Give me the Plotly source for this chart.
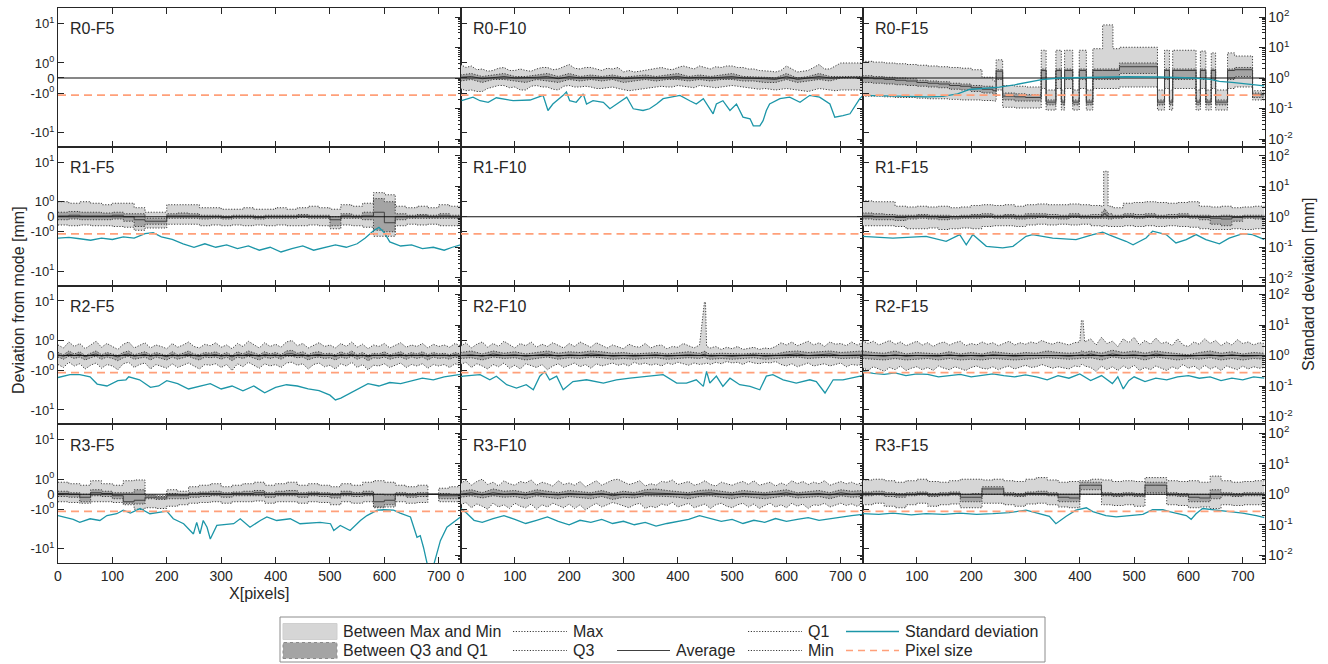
import math
import plotly.graph_objects as go
from plotly.subplots import make_subplots

W, H = 1328, 664
FONT = "Liberation Sans, Arial, Helvetica, sans-serif"
INK = "#262626"

# ---------------------------------------------------------------- data
X20 = [0, 20, 40, 60, 80, 100, 120, 140, 160, 180, 200, 220, 240, 260, 280, 300, 320, 340, 360,
       380, 400, 420, 440, 460, 480, 500, 520, 540, 560, 580, 600, 620, 640, 660, 680, 700, 720, 740]
X10 = list(range(0, 741, 10))
PIXEL_SIZE = 0.275
PANEL_NAMES = [["R0-F5", "R0-F10", "R0-F15"], ["R1-F5", "R1-F10", "R1-F15"],
               ["R2-F5", "R2-F10", "R2-F15"], ["R3-F5", "R3-F10", "R3-F15"]]
X_TICKS = [0, 100, 200, 300, 400, 500, 600, 700]
LEFT_TICKS = [10, 1, 0, -1, -10]
LEFT_TICKTEXT = ["10<sup>1</sup>", "10<sup>0</sup>", "0", "-10<sup>0</sup>", "-10<sup>1</sup>"]
RIGHT_TICKS = [0.01, 0.1, 1, 10, 100]
RIGHT_TICKTEXT = ["10<sup>-2</sup>", "10<sup>-1</sup>", "10<sup>0</sup>", "10<sup>1</sup>", "10<sup>2</sup>"]
LEGEND_ROW1 = ["Between Max and Min", "Max", "", "Q1", "Standard deviation"]
LEGEND_ROW2 = ["Between Q3 and Q1", "Q3", "Average", "Min", "Pixel size"]

# R0-F10
R0F10_max = [0.9,0.7,0.8,0.55,0.6,0.45,0.5,0.65,0.7,0.5,0.5,0.6,0.5,0.45,0.6,0.7,0.7,0.55,0.6,0.75,
             0.9,0.65,0.6,0.7,0.7,0.6,0.5,0.65,0.6,0.7,0.4,0.5,0.4,0.45,0.5,0.6,0.6,0.7,0.6,0.55,
             0.7,0.8,0.7,0.6,0.8,0.7,0.6,0.75,0.7,0.8,0.8,0.7,0.7,0.6,0.6,0.5,0.5,0.45,0.4,0.5,
             0.8,0.6,0.4,0.45,0.5,0.7,0.9,0.6,0.6,0.8,1.0,1.0,1.0,1.0,1.0]
R0F10_min = [-0.7,-0.85,-0.8,-0.9,-0.9,-0.7,-0.6,-0.5,-0.5,-0.65,-0.6,-0.8,-0.8,-0.55,-0.5,-0.6,-0.6,-0.75,-0.8,-0.55,
             -0.5,-0.6,-0.6,-0.55,-0.6,-0.7,-0.7,-0.65,-0.6,-0.7,-0.8,-0.85,-0.8,-0.75,-0.7,-0.65,-0.6,-0.55,-0.6,-0.6,
             -0.5,-0.55,-0.6,-0.65,-0.5,-0.55,-0.6,-0.65,-0.6,-0.55,-0.5,-0.55,-0.6,-0.65,-0.7,-0.75,-0.7,-0.75,-0.8,-0.75,
             -0.7,-0.75,-0.8,-0.85,-0.9,-0.8,-0.7,-0.75,-0.8,-0.85,-0.8,-0.8,-0.8,-0.8,-0.8]
R0F10_q3 = [0.2,0.3,0.1,0.2,0.3,0.1,0.1,0.2,0.3,0.1,0.3,0.1,0.2,0.1,0.2,0.05,0.1,0.2,0.1,0.2,0.3,0.1,0.2,0.1,0.2,0.3,0.1,0.1,0.05,0.0,0.3,0.0,0.1,0.3,0.1,0.1,0.1,0.1]
R0F10_avg = [0.05,0.1,-0.05,0.05,0.1,0,0,0.05,0.1,-0.05,0.1,0,0.05,0,0.05,-0.05,0,0.05,0,0.05,0.1,0,0.05,0,0.05,0.1,0,0,-0.05,-0.1,0.1,-0.1,0,0.1,0,0.05,0.05,0.05]
R0F10_q1 = [-0.2,-0.1,-0.3,-0.1,-0.1,-0.2,-0.3,-0.1,-0.2,-0.3,-0.1,-0.2,-0.1,-0.2,-0.1,-0.3,-0.2,-0.1,-0.2,-0.1,-0.1,-0.2,-0.1,-0.2,-0.1,-0.1,-0.2,-0.2,-0.3,-0.3,-0.1,-0.3,-0.2,-0.1,-0.2,0,0,0]
R0F10_sd_x = [2,23,36,51,66,97,128,152,161,170,189,195,201,213,226,232,244,263,275,287,306,318,336,348,361,373,404,422,434,447,465,471,483,496,508,520,533,539,551,557,563,569,588,606,625,643,661,680,689,704,717,735,740]
R0F10_sd = [0.18,0.236,0.18,0.16,0.225,0.18,0.19,0.27,0.086,0.14,0.27,0.35,0.18,0.16,0.30,0.14,0.18,0.16,0.098,0.14,0.236,0.098,0.086,0.098,0.14,0.21,0.27,0.18,0.14,0.21,0.067,0.14,0.18,0.086,0.14,0.052,0.046,0.027,0.027,0.040,0.086,0.14,0.21,0.236,0.16,0.27,0.236,0.14,0.052,0.058,0.067,0.21,0.26]

# R0-F15
R0F15_x = [0,20,40,60,80,100,120,140,160,180,200,220,240,246,258,280,300,329,338,356,366,372,387,399,412,424,442,461,473,543,556,565,571,614,622,632,642,650,672,685,718,740]
R0F15_max = [1.1,1.05,1.0,0.95,0.9,0.85,0.8,0.75,0.7,0.65,0.55,0.05,-0.2,1.2,-0.5,-0.55,-0.6,2.1,-0.8,2.1,-0.8,2.1,-0.8,2.1,-0.8,2.3,9.2,2.3,2.5,-0.8,2.1,-0.8,2.1,-0.8,2.0,-0.8,1.8,-0.8,1.8,1.5,-0.85,-0.85]
R0F15_q3 = [0.15,0.1,0.05,0.0,-0.05,-0.15,-0.2,-0.25,-0.35,-0.4,-0.5,-0.55,-0.65,0.55,-1.0,-1.05,-1.1,0.6,-1.5,0.6,-1.5,0.6,-1.5,0.6,-1.5,0.6,0.6,0.6,1.0,-1.5,0.6,-1.5,0.6,-1.5,0.6,-1.5,0.6,-1.5,0.6,0.7,-1.0,-1.0]
R0F15_avg = [0,-0.05,-0.1,-0.15,-0.2,-0.3,-0.35,-0.4,-0.5,-0.55,-0.65,-0.75,-0.85,0.45,-1.2,-1.25,-1.3,0.5,-1.7,0.5,-1.7,0.5,-1.7,0.5,-1.7,0.5,0.5,0.5,0.75,-1.7,0.5,-1.7,0.5,-1.7,0.5,-1.7,0.5,-1.7,0.5,0.55,-1.1,-1.1]
R0F15_q1 = [-0.3,-0.35,-0.4,-0.45,-0.5,-0.55,-0.6,-0.65,-0.75,-0.8,-0.9,-1.0,-1.1,-0.1,-1.5,-1.6,-1.6,-0.1,-2.0,-0.1,-2.0,-0.1,-2.0,-0.1,-2.0,-0.1,-0.1,-0.1,0.3,-2.0,-0.1,-2.0,-0.1,-2.0,-0.1,-2.0,-0.1,-2.0,-0.1,0.1,-1.3,-1.3]
R0F15_min = [-1.2,-1.2,-1.25,-1.3,-1.3,-1.35,-1.4,-1.4,-1.45,-1.5,-1.5,-1.55,-1.6,-0.8,-2.3,-2.4,-2.4,-0.7,-2.7,-0.7,-2.7,-0.7,-2.7,-0.7,-2.7,-0.7,-0.7,-0.7,-0.6,-2.7,-0.7,-2.7,-0.7,-2.7,-0.7,-2.7,-0.7,-2.7,-0.7,-0.6,-1.5,-1.5]
R0F15_sd_x = [0,40,86,120,148,175,197,225,252,280,301,330,363,424,485,547,608,640,657,680,700,720,740]
R0F15_sd = [0.27,0.26,0.24,0.24,0.25,0.3,0.42,0.47,0.5,0.6,0.72,0.88,1.0,1.05,1.1,1.08,1.0,0.9,0.78,0.72,0.66,0.6,0.55]

# R1-F5
R1F5_max = [1.0,0.9,1.0,0.9,0.8,0.9,0.9,0.6,0.3,0.3,0.8,0.8,0.8,0.6,0.6,0.5,0.5,0.6,0.5,0.5,0.6,0.5,0.6,0.7,0.6,0.5,0.8,0.7,0.9,1.7,1.5,0.7,0.6,0.7,0.6,0.8,0.7,0.8]
R1F5_q3 = [0.3,0.35,0.3,0.3,0.25,0.3,0.2,0.2,-0.1,-0.1,0.2,0.25,0.2,0.1,0.1,0.05,0.1,0.1,0.05,0.1,0.1,0.1,0.15,0.1,0.1,0.0,0.2,0.1,0.3,1.2,1.0,0.2,0.1,0.15,0.1,0.2,0.1,0.2]
R1F5_avg = [0.05,0.1,0.05,0.05,0.05,0.1,0.0,-0.2,-0.3,-0.3,0.05,0.05,0.05,0.0,0.0,-0.05,0.0,0.0,-0.05,0.0,0.0,0.0,0.05,0.0,0.0,-0.2,0.05,0.0,0.05,0.3,-0.4,0.0,0.0,0.05,0.0,0.05,0.0,0.05]
R1F5_q1 = [-0.2,-0.15,-0.2,-0.2,-0.2,-0.15,-0.3,-0.65,-0.5,-0.5,-0.1,-0.1,-0.1,-0.15,-0.1,-0.15,-0.1,-0.1,-0.15,-0.1,-0.1,-0.1,-0.05,-0.1,-0.1,-0.6,-0.1,-0.1,-0.2,-0.9,-1.0,-0.2,-0.1,-0.1,-0.1,-0.1,-0.1,-0.1]
R1F5_min = [-0.55,-0.6,-0.55,-0.6,-0.6,-0.65,-0.7,-0.9,-0.75,-0.75,-0.5,-0.5,-0.5,-0.6,-0.55,-0.6,-0.55,-0.6,-0.55,-0.6,-0.55,-0.6,-0.6,-0.55,-0.6,-0.8,-0.55,-0.6,-0.7,-1.3,-1.3,-0.6,-0.5,-0.55,-0.5,-0.6,-0.6,-0.7]
R1F5_sd_x = [0,20,40,60,80,100,120,140,160,175,190,210,230,250,270,290,310,330,350,370,390,410,430,450,470,490,510,530,550,565,580,590,600,610,630,650,670,690,710,725,740]
R1F5_sd = [0.2,0.21,0.19,0.17,0.2,0.18,0.22,0.2,0.28,0.3,0.22,0.18,0.13,0.1,0.13,0.1,0.12,0.09,0.11,0.08,0.1,0.07,0.09,0.11,0.08,0.1,0.12,0.1,0.13,0.2,0.35,0.45,0.3,0.15,0.11,0.12,0.09,0.1,0.08,0.1,0.12]

# R1-F15
R1F15_x = [0,20,40,60,80,100,120,140,160,180,200,220,240,260,280,300,320,340,360,380,400,420,440,444,448,452,460,480,500,520,540,560,580,600,620,640,660,680,700,720,740]
R1F15_max = [1.05,1.0,1.0,0.7,0.65,0.7,0.65,0.7,0.6,0.65,0.75,0.8,0.75,0.8,0.7,0.8,0.85,0.8,0.8,0.85,0.8,0.75,0.7,5.9,5.9,0.7,0.6,0.9,0.95,1.0,0.95,0.9,0.95,1.0,0.7,0.65,0.7,0.6,0.65,0.7,0.6]
R1F15_q3 = [0.25,0.2,0.15,0.1,0.1,0.15,0.1,0.1,0.05,0.1,0.15,0.2,0.1,0.15,0.1,0.2,0.2,0.15,0.1,0.2,0.1,0.15,0.3,0.5,0.3,0.2,0.1,0.2,0.15,0.2,0.1,0.15,0.2,0.1,0.1,0.05,0.1,0.05,0.1,0.1,0.1]
R1F15_avg = [0.05,0.0,0.0,-0.05,0.0,0.05,0.0,-0.05,0.0,0.0,0.05,0.05,0.0,0.05,0.0,0.05,0.05,0.0,0.0,0.05,0.0,0.0,0.1,0.2,0.1,0.0,0.0,0.05,0.0,0.05,0.0,0.0,0.05,0.0,-0.05,-0.1,-0.15,-0.05,0.0,0.0,0.0]
R1F15_q1 = [-0.15,-0.2,-0.2,-0.25,-0.15,-0.1,-0.15,-0.2,-0.15,-0.1,-0.1,-0.05,-0.1,-0.1,-0.15,-0.1,-0.05,-0.1,-0.15,-0.05,-0.1,-0.1,-0.1,-0.1,-0.1,-0.15,-0.1,-0.05,-0.1,-0.05,-0.1,-0.1,-0.05,-0.1,-0.2,-0.5,-0.6,-0.3,-0.1,-0.15,-0.1]
R1F15_min = [-0.6,-0.6,-0.6,-0.65,-0.8,-0.8,-0.75,-0.85,-0.8,-0.75,-0.8,-0.65,-0.6,-0.6,-0.65,-0.55,-0.5,-0.55,-0.5,-0.55,-0.5,-0.6,-0.65,-0.6,-0.6,-0.65,-0.65,-0.6,-0.65,-0.6,-0.65,-0.6,-0.65,-0.7,-0.8,-0.85,-0.85,-0.8,-0.85,-0.8,-0.85]
R1F15_sd_x = [0,56,117,154,179,191,203,228,258,277,301,313,350,393,424,442,461,485,498,522,534,559,577,596,614,632,657,675,700,718,740]
R1F15_sd = [0.229,0.20,0.229,0.157,0.26,0.12,0.26,0.107,0.095,0.107,0.229,0.26,0.20,0.178,0.26,0.31,0.229,0.157,0.12,0.20,0.335,0.26,0.138,0.178,0.26,0.178,0.13,0.20,0.28,0.26,0.178]

# R2-F5 (10 px sampling)
R2F5_max = [0.7,0.5,0.9,0.6,0.8,0.45,0.7,0.95,0.55,0.8,0.6,0.4,0.75,0.9,0.5,0.65,0.85,0.5,0.7,0.6,
            0.45,0.8,0.55,0.7,0.9,0.6,0.5,0.75,0.65,0.85,0.55,0.7,0.45,0.8,0.6,0.95,0.7,0.5,0.85,0.6,
            0.75,0.55,0.9,1.0,0.65,0.8,0.5,0.7,0.85,0.6,0.7,0.5,0.8,0.6,0.9,0.55,0.75,0.45,0.7,0.6,
            0.8,0.5,0.65,0.85,0.55,0.7,0.6,0.8,0.5,0.75,0.6,0.7,0.55,0.8,0.65]
R2F5_q3 = [0.2,0.05,0.3,0.1,0.25,0.0,0.15,0.3,0.05,0.2,0.1,0.0,0.2,0.3,0.05,0.15,0.25,0.05,0.2,0.1,
           0.0,0.25,0.05,0.15,0.3,0.1,0.05,0.2,0.15,0.25,0.05,0.2,0.0,0.25,0.1,0.3,0.15,0.05,0.25,0.1,
           0.2,0.05,0.3,0.35,0.15,0.25,0.05,0.2,0.25,0.1,0.15,0.05,0.25,0.1,0.3,0.05,0.2,0.0,0.15,0.1,
           0.25,0.05,0.15,0.25,0.05,0.2,0.1,0.25,0.05,0.2,0.1,0.15,0.05,0.2,0.1]
R2F5_avg = [0.05,-0.05,0.1,0.0,0.08,-0.08,0.03,0.1,-0.05,0.05,0.0,-0.1,0.05,0.1,-0.05,0.02,0.08,-0.06,0.05,0.0,
            -0.08,0.06,-0.04,0.02,0.1,0.0,-0.06,0.05,0.02,0.07,-0.05,0.04,-0.1,0.06,0.0,0.1,0.03,-0.06,0.07,0.0,
            0.05,-0.05,0.1,0.12,0.02,0.06,-0.06,0.04,0.07,0.0,0.03,-0.06,0.06,0.0,0.1,-0.05,0.04,-0.1,0.03,0.0,
            0.06,-0.05,0.02,0.07,-0.04,0.04,0.0,0.06,-0.06,0.04,0.0,0.03,-0.04,0.05,0.0]
R2F5_q1 = [-0.1,-0.25,-0.05,-0.2,-0.1,-0.3,-0.15,-0.05,-0.25,-0.1,-0.2,-0.35,-0.15,-0.05,-0.25,-0.15,-0.1,-0.3,-0.1,-0.2,
           -0.3,-0.1,-0.25,-0.15,-0.05,-0.2,-0.3,-0.1,-0.15,-0.1,-0.25,-0.1,-0.35,-0.1,-0.2,-0.05,-0.15,-0.3,-0.1,-0.2,
           -0.1,-0.25,-0.05,-0.05,-0.15,-0.1,-0.3,-0.15,-0.1,-0.2,-0.15,-0.3,-0.1,-0.2,-0.05,-0.25,-0.1,-0.35,-0.15,-0.2,
           -0.1,-0.25,-0.15,-0.1,-0.25,-0.1,-0.2,-0.1,-0.3,-0.1,-0.2,-0.15,-0.25,-0.1,-0.2]
R2F5_min = [-0.6,-0.8,-0.45,-0.7,-0.55,-0.9,-0.65,-0.5,-0.85,-0.6,-0.7,-0.95,-0.55,-0.45,-0.8,-0.6,-0.5,-0.9,-0.6,-0.75,
            -0.85,-0.55,-0.8,-0.65,-0.5,-0.7,-0.9,-0.6,-0.65,-0.55,-0.8,-0.6,-1.0,-0.55,-0.75,-0.45,-0.65,-0.85,-0.55,-0.7,
            -0.6,-0.8,-0.5,-0.45,-0.65,-0.55,-0.9,-0.6,-0.5,-0.75,-0.65,-0.9,-0.55,-0.7,-0.45,-0.8,-0.6,-0.95,-0.65,-0.7,
            -0.55,-0.8,-0.65,-0.5,-0.8,-0.6,-0.7,-0.55,-0.85,-0.6,-0.7,-0.6,-0.8,-0.55,-0.7]
R2F5_sd_x = [0,22,40,59,72,90,110,125,130,150,170,185,200,220,240,260,280,300,320,340,360,380,400,420,440,460,480,500,510,520,530,550,570,590,610,630,650,670,690,710,740]
R2F5_sd = [0.19,0.236,0.236,0.2,0.116,0.1,0.15,0.16,0.2,0.16,0.09,0.1,0.15,0.12,0.08,0.1,0.12,0.08,0.1,0.07,0.1,0.06,0.09,0.11,0.1,0.08,0.07,0.05,0.035,0.04,0.05,0.08,0.12,0.1,0.13,0.12,0.15,0.18,0.16,0.2,0.24]

# R2-F10 (outer envelope at 10 px, quartiles at 20 px)
R2F10_xo = X10[:45] + [449, 451, 453] + X10[46:]
R2F10_max = [0.6,0.85,0.5,0.75,0.9,0.55,0.8,0.6,0.95,0.7,0.5,0.8,0.65,0.9,0.55,0.75,0.6,0.85,0.7,0.5,
             0.8,0.6,0.9,0.75,0.55,0.85,0.65,0.5,0.7,0.6,0.45,0.75,0.6,0.55,0.8,0.5,0.65,0.7,0.45,0.6,
             0.55,0.8,0.65,0.5,0.7, 9.3,9.3,0.6,
             0.5,0.6,0.4,0.55,0.45,0.6,0.4,0.5,0.55,0.4,0.5,0.45,0.6,0.85,0.7,0.9,0.65,0.8,0.95,0.7,
             0.85,0.6,0.9,0.75,0.8,0.65,0.9,0.7,0.85]
R2F10_min = [-0.6,-0.45,-0.8,-0.55,-0.7,-0.9,-0.6,-0.75,-0.5,-0.85,-0.65,-0.9,-0.55,-0.7,-0.8,-0.6,-0.95,-0.7,-0.55,-0.8,
             -0.65,-0.5,-0.75,-0.6,-0.85,-0.55,-0.7,-0.6,-0.5,-0.65,-0.55,-0.7,-0.45,-0.6,-0.5,-0.65,-0.55,-0.7,-0.5,-0.6,
             -0.45,-0.55,-0.65,-0.5,-0.6, -0.55,-0.55,-0.5,
             -0.6,-0.45,-0.55,-0.4,-0.5,-0.45,-0.6,-0.4,-0.5,-0.55,-0.45,-0.5,-0.4,-0.6,-0.7,-0.55,-0.75,-0.6,-0.5,-0.7,
             -0.65,-0.55,-0.7,-0.6,-0.5,-0.75,-0.6,-0.65,-0.6]
R2F10_xi = [0,20,40,60,80,100,120,140,160,180,200,220,240,260,280,300,320,340,360,380,400,420,440,449,451,453,460,480,500,520,540,560,580,600,620,640,660,680,700,720,740]
R2F10_q3 = [0.2,0.3,0.1,0.3,0.15,0.25,0.1,0.2,0.3,0.15,0.25,0.2,0.3,0.25,0.15,0.2,0.1,0.15,0.2,0.1,0.15,0.25,0.15,0.3,0.3,0.15,0.1,0.15,0.1,0.1,0.15,0.1,0.1,0.25,0.3,0.2,0.25,0.3,0.2,0.25,0.3]
R2F10_avg = [0.0,0.05,-0.05,0.1,0.0,0.05,-0.05,0.0,0.1,-0.05,0.05,0.0,0.1,0.05,-0.05,0.0,-0.05,0.0,0.05,-0.05,0.0,0.05,0.0,0.1,0.1,0.0,-0.05,0.0,-0.05,0.0,0.05,-0.05,0.0,0.05,0.1,0.0,0.05,0.1,0.0,0.05,0.05]
R2F10_q1 = [-0.2,-0.15,-0.3,-0.1,-0.2,-0.15,-0.3,-0.2,-0.1,-0.25,-0.15,-0.2,-0.1,-0.15,-0.25,-0.2,-0.25,-0.2,-0.15,-0.25,-0.2,-0.15,-0.2,-0.1,-0.1,-0.2,-0.25,-0.2,-0.25,-0.2,-0.15,-0.25,-0.2,-0.15,-0.1,-0.2,-0.15,-0.1,-0.2,-0.15,-0.15]
R2F10_sd_x = [0,5,36,54,66,85,103,121,134,146,155,164,177,189,207,232,263,287,312,342,373,398,416,434,447,453,459,471,483,496,514,533,551,563,575,594,618,643,655,671,686,704,735,740]
R2F10_sd = [0.2,0.21,0.236,0.16,0.21,0.11,0.086,0.11,0.075,0.21,0.30,0.16,0.21,0.075,0.14,0.16,0.125,0.16,0.18,0.21,0.236,0.125,0.125,0.16,0.097,0.30,0.125,0.21,0.097,0.18,0.11,0.097,0.075,0.21,0.236,0.16,0.125,0.16,0.14,0.059,0.16,0.16,0.21,0.22]

# R2-F15 (outer envelope at 10 px, quartiles at 20 px)
R2F15_xo = X10[:41] + [403, 406, 409] + X10[42:]
R2F15_max = [1.0,0.8,0.95,0.7,0.85,1.0,0.75,0.9,0.65,0.8,0.95,0.7,0.85,0.6,0.8,0.9,0.7,0.85,0.95,0.65,
             0.8,0.7,0.9,0.75,0.85,0.65,0.8,0.95,0.7,0.85,0.75,0.9,0.8,1.0,0.85,0.75,0.9,0.8,0.7,0.85,0.9,
             3.2,3.2,0.9,
             1.1,0.7,1.2,0.8,0.95,0.6,1.1,0.85,1.2,0.7,1.0,0.75,1.15,0.8,0.9,0.65,1.1,0.7,0.6,0.9,
             0.75,1.1,0.8,1.0,0.65,0.9,0.7,1.05,0.8,0.9,0.7,0.85,0.8]
R2F15_min = [-0.8,-1.0,-0.75,-0.9,-1.05,-0.8,-0.95,-0.7,-1.0,-0.85,-0.75,-0.95,-0.8,-1.0,-0.7,-0.85,-0.95,-0.75,-0.9,-1.0,
             -0.8,-0.7,-0.85,-0.9,-0.75,-0.95,-0.8,-0.7,-0.9,-0.8,-0.65,-0.8,-0.75,-0.6,-0.7,-0.85,-0.75,-0.8,-0.9,-0.7,-0.75,
             -0.6,-0.6,-0.7,
             -0.8,-1.05,-0.7,-0.95,-0.75,-1.0,-0.7,-0.9,-0.65,-1.0,-0.8,-0.95,-0.7,-0.85,-1.0,-0.75,-0.9,-0.6,-0.85,-0.7,
             -0.95,-0.65,-0.9,-0.75,-1.0,-0.7,-0.85,-0.95,-0.7,-0.9,-0.75,-0.85,-0.8]
R2F15_xi = [0,20,40,60,80,100,120,140,160,180,200,220,240,260,280,300,320,340,360,380,400,403,406,409,420,440,460,480,500,520,540,560,580,600,620,640,660,680,700,720,740]
R2F15_q3 = [0.3,0.2,0.15,0.3,0.1,0.2,0.15,0.1,0.25,0.1,0.2,0.1,0.25,0.15,0.1,0.2,0.15,0.3,0.2,0.15,0.2,0.3,0.3,0.2,0.3,0.15,0.35,0.2,0.3,0.15,0.3,0.2,0.1,0.05,0.2,0.3,0.15,0.25,0.1,0.2,0.15]
R2F15_avg = [0.05,0.0,-0.05,0.05,-0.05,0.0,0.0,-0.05,0.05,-0.05,0.0,-0.05,0.05,0.0,-0.05,0.0,0.0,0.05,0.0,-0.05,0.0,0.05,0.05,0.0,0.1,-0.05,0.1,0.0,0.05,-0.05,0.1,0.0,-0.05,-0.05,0.0,0.05,-0.05,0.05,-0.05,0.0,0.0]
R2F15_q1 = [-0.2,-0.25,-0.3,-0.2,-0.3,-0.25,-0.2,-0.3,-0.2,-0.3,-0.25,-0.3,-0.2,-0.25,-0.3,-0.25,-0.2,-0.15,-0.2,-0.25,-0.2,-0.15,-0.15,-0.2,-0.15,-0.3,-0.1,-0.2,-0.15,-0.3,-0.1,-0.2,-0.3,-0.2,-0.25,-0.15,-0.3,-0.2,-0.3,-0.2,-0.25]
R2F15_sd_x = [0,20,40,60,80,100,120,140,160,180,200,220,240,260,280,300,320,340,360,380,400,420,440,460,470,480,490,500,520,540,560,580,600,620,640,660,680,700,720,740]
R2F15_sd = [0.3,0.26,0.24,0.27,0.22,0.25,0.24,0.2,0.22,0.24,0.2,0.22,0.25,0.22,0.2,0.23,0.2,0.16,0.22,0.18,0.25,0.15,0.22,0.12,0.2,0.08,0.15,0.2,0.14,0.18,0.16,0.2,0.22,0.18,0.2,0.15,0.18,0.16,0.2,0.18]

# R3-F5
R3F5_max = [0.8,0.7,0.6,0.9,0.7,0.6,0.9,0.95,-0.05,-0.1,0.3,0.2,0.5,0.6,0.7,0.5,0.6,0.7,0.8,0.6,0.7,0.8,0.6,0.7,0.6,0.5,0.7,0.6,0.8,0.9,0.8,0.6,0.5,0.6,0.0,0.4,0.5,0.4]
R3F5_q3 = [0.2,0.1,0.0,0.3,0.2,0.1,0.1,0.3,-0.1,-0.15,0.05,0.0,0.1,0.15,0.2,0.1,0.15,0.2,0.25,0.1,0.2,0.25,0.1,0.15,0.1,0.05,0.2,0.1,0.2,0.0,-0.05,0.1,0.05,0.1,0.0,0.05,0.0,0.0]
R3F5_avg = [0.05,0.0,-0.2,0.1,0.05,-0.1,-0.5,-0.4,-0.2,-0.25,-0.1,-0.1,0.0,0.05,0.05,0.0,0.05,0.05,0.1,0.0,0.05,0.05,0.0,0.05,0.0,-0.05,0.05,0.0,0.05,-0.5,-0.4,0.0,-0.05,0.0,0.0,-0.1,-0.1,-0.1]
R3F5_q1 = [-0.15,-0.2,-0.5,-0.1,-0.15,-0.3,-0.6,-0.65,-0.3,-0.35,-0.3,-0.3,-0.2,-0.15,-0.1,-0.2,-0.1,-0.1,-0.1,-0.2,-0.1,-0.1,-0.2,-0.1,-0.15,-0.25,-0.1,-0.15,-0.1,-0.85,-0.7,-0.1,-0.2,-0.15,0.0,-0.3,-0.3,-0.3]
R3F5_min = [-0.5,-0.55,-0.6,-0.5,-0.5,-0.55,-0.7,-1.0,-0.9,-0.95,-0.8,-0.7,-0.6,-0.55,-0.5,-0.6,-0.5,-0.5,-0.45,-0.6,-0.5,-0.5,-0.6,-0.5,-0.55,-0.7,-0.5,-0.6,-0.5,-0.9,-0.85,-0.5,-0.6,-0.55,0.0,-0.5,-0.5,-0.5]
R3F5_sd_x = [0,28,40,59,77,90,108,120,133,151,169,200,212,231,249,255,261,267,274,280,292,323,335,353,372,384,402,427,445,482,501,507,519,537,556,568,587,599,617,629,648,660,666,672,679,691,703,715,740]
R3F5_sd = [0.2,0.15,0.12,0.157,0.138,0.2,0.23,0.30,0.24,0.34,0.23,0.28,0.157,0.108,0.05,0.12,0.05,0.138,0.083,0.034,0.095,0.108,0.157,0.083,0.138,0.18,0.138,0.157,0.108,0.12,0.108,0.065,0.095,0.065,0.138,0.2,0.30,0.31,0.30,0.24,0.18,0.039,0.044,0.018,0.005,0.005,0.03,0.083,0.18]

# R3-F10 (outer envelope at 10 px, quartiles at 20 px)
R3F10_max = [0.7,0.95,0.6,0.85,1.0,0.65,0.8,0.55,0.9,0.7,0.6,0.85,0.75,0.95,0.6,0.8,0.7,0.55,0.9,0.65,
             0.75,0.6,0.85,0.5,0.7,0.9,0.6,0.75,0.95,1.0,0.8,0.65,0.75,0.9,0.55,0.7,0.6,0.85,0.8,0.95,
             0.65,0.75,0.85,0.6,0.7,0.9,0.65,0.55,0.8,0.7,0.6,0.75,0.85,0.65,0.9,0.6,0.7,0.8,0.55,0.75,
             0.6,0.9,0.7,0.85,0.65,0.8,0.7,0.9,0.6,0.75,0.85,0.7,0.8,0.65,0.8]
R3F10_min = [-0.7,-0.55,-0.9,-0.65,-0.8,-1.0,-0.6,-0.85,-0.7,-0.95,-0.6,-0.8,-0.9,-0.65,-1.0,-0.7,-0.85,-0.6,-0.75,-0.9,
             -0.65,-0.95,-0.7,-1.05,-0.8,-0.6,-0.85,-0.7,-0.55,-0.65,-0.75,-0.9,-0.7,-0.6,-0.95,-0.8,-0.9,-0.65,-0.75,-0.55,
             -0.85,-0.7,-0.6,-0.9,-0.8,-0.65,-0.95,-0.7,-0.6,-0.8,-0.9,-0.7,-0.6,-0.85,-0.65,-0.95,-0.75,-0.6,-0.85,-0.7,
             -0.9,-0.6,-0.8,-0.65,-0.95,-0.7,-0.75,-0.6,-0.85,-0.7,-0.6,-0.75,-0.65,-0.8,-0.6]
R3F10_q3 = [0.2,0.3,0.1,0.35,0.2,0.25,0.1,0.3,0.2,0.1,0.25,0.2,0.1,0.25,0.05,0.2,0.1,0.3,0.35,0.25,0.2,0.1,0.25,0.3,0.2,0.1,0.25,0.2,0.1,0.2,0.3,0.1,0.2,0.25,0.1,0.3,0.2,0.25]
R3F10_avg = [0.0,0.1,-0.05,0.1,0.0,0.05,-0.05,0.1,0.0,-0.05,0.05,0.0,-0.05,0.05,-0.1,0.0,-0.05,0.1,0.1,0.05,0.0,-0.05,0.05,0.1,0.0,-0.05,0.05,0.0,-0.05,0.0,0.1,-0.05,0.0,0.05,-0.05,0.1,0.0,0.05]
R3F10_q1 = [-0.2,-0.1,-0.25,-0.1,-0.2,-0.15,-0.3,-0.1,-0.2,-0.3,-0.15,-0.2,-0.3,-0.15,-0.35,-0.2,-0.25,-0.1,-0.1,-0.15,-0.2,-0.3,-0.15,-0.1,-0.2,-0.3,-0.15,-0.2,-0.3,-0.2,-0.1,-0.25,-0.2,-0.15,-0.3,-0.1,-0.2,-0.15]
R3F10_sd_x = [0,10,25,40,60,80,100,120,140,160,180,200,220,240,260,280,300,320,340,360,380,400,420,440,460,480,500,520,540,560,580,600,620,640,660,680,700,720,740]
R3F10_sd = [0.35,0.25,0.14,0.12,0.16,0.2,0.15,0.11,0.14,0.18,0.13,0.1,0.14,0.12,0.15,0.11,0.13,0.1,0.12,0.09,0.11,0.13,0.15,0.2,0.16,0.13,0.15,0.11,0.14,0.12,0.16,0.13,0.15,0.17,0.14,0.16,0.18,0.2,0.22]

# R3-F15
R3F15_max = [0.95,1.0,0.9,0.8,0.9,1.0,0.85,0.8,0.9,1.0,1.0,0.95,1.0,0.9,0.85,1.0,1.1,0.95,0.8,0.85,0.9,1.0,0.95,0.85,0.9,0.85,1.1,1.1,0.9,0.85,0.9,0.8,1.2,0.9,0.8,0.85,0.9,0.85]
R3F15_q3 = [0.15,0.2,0.1,0.05,0.1,0.15,0.05,0.1,0.15,0.0,0.05,0.5,0.5,0.1,0.05,0.15,0.2,0.1,0.0,0.0,0.8,0.8,0.1,0.05,0.1,0.05,0.8,0.8,0.1,0.05,0.0,0.0,0.3,0.1,0.05,0.1,0.1,0.05]
R3F15_avg = [0.05,0.05,0.0,-0.05,0.0,0.05,-0.05,0.0,0.05,-0.2,-0.2,0.35,0.35,0.0,-0.05,0.05,0.05,0.0,-0.2,-0.25,0.6,0.6,0.0,-0.05,0.0,-0.05,0.6,0.6,0.0,-0.05,-0.2,-0.25,0.0,0.0,-0.05,0.0,0.0,-0.05]
R3F15_q1 = [-0.1,-0.05,-0.15,-0.2,-0.1,-0.05,-0.15,-0.1,-0.05,-0.5,-0.5,0.0,0.0,-0.1,-0.15,-0.05,-0.05,-0.1,-0.5,-0.5,0.3,0.3,-0.1,-0.15,-0.1,-0.15,0.1,0.1,-0.1,-0.15,-0.5,-0.5,-0.3,-0.1,-0.15,-0.1,-0.1,-0.15]
R3F15_min = [-0.7,-0.6,-0.8,-0.9,-0.7,-0.6,-0.8,-0.7,-0.65,-0.9,-0.9,-0.6,-0.6,-0.7,-0.8,-0.65,-0.6,-0.7,-0.85,-0.9,0.0,0.0,-0.7,-0.75,-0.7,-0.8,0.0,0.0,-0.7,-0.75,-0.9,-0.85,-0.95,-0.7,-0.75,-0.7,-0.7,-0.8]
R3F15_sd_x = [0,30,56,90,117,150,179,210,240,270,301,326,344,356,375,393,412,424,448,467,485,516,534,553,565,583,596,605,614,626,645,669,700,725,740]
R3F15_sd = [0.23,0.22,0.24,0.21,0.23,0.22,0.24,0.22,0.23,0.25,0.3,0.23,0.19,0.108,0.19,0.3,0.36,0.27,0.2,0.18,0.19,0.22,0.31,0.31,0.27,0.23,0.2,0.15,0.23,0.34,0.31,0.29,0.24,0.2,0.17]


def panel(xo, mx, mn, xi, q3, av, q1, sx, sd, shape):
    return dict(xo=xo, mx=mx, mn=mn, xi=xi, q3=q3, av=av, q1=q1, sx=sx, sd=sd, shape=shape)


PANELS = {
    (0, 0): None,
    (0, 1): panel(X10, R0F10_max, R0F10_min, X20, R0F10_q3, R0F10_avg, R0F10_q1, R0F10_sd_x, R0F10_sd, "linear"),
    (0, 2): panel(R0F15_x, R0F15_max, R0F15_min, R0F15_x, R0F15_q3, R0F15_avg, R0F15_q1, R0F15_sd_x, R0F15_sd, "hv"),
    (1, 0): panel(X20, R1F5_max, R1F5_min, X20, R1F5_q3, R1F5_avg, R1F5_q1, R1F5_sd_x, R1F5_sd, "hv"),
    (1, 1): None,
    (1, 2): panel(R1F15_x, R1F15_max, R1F15_min, R1F15_x, R1F15_q3, R1F15_avg, R1F15_q1, R1F15_sd_x, R1F15_sd, "hv"),
    (2, 0): panel(X10, R2F5_max, R2F5_min, X10, R2F5_q3, R2F5_avg, R2F5_q1, R2F5_sd_x, R2F5_sd, "linear"),
    (2, 1): panel(R2F10_xo, R2F10_max, R2F10_min, R2F10_xi, R2F10_q3, R2F10_avg, R2F10_q1, R2F10_sd_x, R2F10_sd, "linear"),
    (2, 2): panel(R2F15_xo, R2F15_max, R2F15_min, R2F15_xi, R2F15_q3, R2F15_avg, R2F15_q1, R2F15_sd_x, R2F15_sd, "linear"),
    (3, 0): panel(X20, R3F5_max, R3F5_min, X20, R3F5_q3, R3F5_avg, R3F5_q1, R3F5_sd_x, R3F5_sd, "hv"),
    (3, 1): panel(X10, R3F10_max, R3F10_min, X20, R3F10_q3, R3F10_avg, R3F10_q1, R3F10_sd_x, R3F10_sd, "linear"),
    (3, 2): panel(X20, R3F15_max, R3F15_min, X20, R3F15_q3, R3F15_avg, R3F15_q1, R3F15_sd_x, R3F15_sd, "hv"),
}

# ---------------------------------------------------------------- scales / layout constants
K_LIN = 0.38                      # width of linear part of the symmetric-log axis (in decades)
LEFT_RANGE = [-1.741, 1.772]      # symlog units
RIGHT_RANGE = [-2.254, 2.295]     # log10 units
X_RANGE = [0, 740]
COLS_PX = [(58, 460.5), (460.5, 862.5), (862.5, 1264.5)]
ROWS_PX = [(8, 146.75), (146.75, 285.5), (285.5, 424.25), (424.25, 563)]

C_LIGHT = "#d6d6d6"
C_DARK = "#a4a4a4"
C_DOT = "#3c3c3c"
C_AVG = "#404040"
C_STD = "#1c96a8"
C_PIX = "#ffa07a"
DOT = "1.2px,1.6px"
PIX_DASH = "8px,5px"


def symlog(v):
    a = abs(v)
    if a <= 1:
        return v * K_LIN
    return math.copysign(K_LIN + math.log10(a), v)


def tr(arr):
    return [symlog(v) for v in arr]


fig = make_subplots(rows=4, cols=3, specs=[[{"secondary_y": True}] * 3 for _ in range(4)],
                    horizontal_spacing=0, vertical_spacing=0)

for r in range(4):
    for c in range(3):
        p = PANELS[(r, c)]
        R, C = r + 1, c + 1
        if p is not None:
            sh = p["shape"]
            xo, xi = p["xo"], p["xi"]
            common = dict(mode="lines", showlegend=False, hoverinfo="skip")
            fig.add_trace(go.Scatter(x=xo, y=tr(p["mn"]), line=dict(width=0, shape=sh), **common), row=R, col=C)
            fig.add_trace(go.Scatter(x=xo, y=tr(p["mx"]), line=dict(width=0, shape=sh), fill="tonexty",
                                     fillcolor=C_LIGHT, name="Between Max and Min", **common), row=R, col=C)
            fig.add_trace(go.Scatter(x=xi, y=tr(p["q1"]), line=dict(width=0, shape=sh), **common), row=R, col=C)
            fig.add_trace(go.Scatter(x=xi, y=tr(p["q3"]), line=dict(width=0, shape=sh), fill="tonexty",
                                     fillcolor=C_DARK, name="Between Q3 and Q1", **common), row=R, col=C)
            for xx, key, nm in ((xo, "mx", "Max"), (xi, "q3", "Q3"), (xi, "q1", "Q1"), (xo, "mn", "Min")):
                fig.add_trace(go.Scatter(x=xx, y=tr(p[key]), name=nm,
                                         line=dict(width=1, color=C_DOT, dash=DOT, shape=sh), **common),
                              row=R, col=C)
            fig.add_trace(go.Scatter(x=xi, y=tr(p["av"]), name="Average",
                                     line=dict(width=1, color=C_AVG, shape=sh), **common), row=R, col=C)
        # zero (mode) reference line
        fig.add_trace(go.Scatter(x=X_RANGE, y=[0, 0], mode="lines", line=dict(width=1.2, color="#111111"),
                                 showlegend=False, hoverinfo="skip"), row=R, col=C)
        if p is not None:
            fig.add_trace(go.Scatter(x=p["sx"], y=p["sd"], mode="lines", name="Standard deviation",
                                     line=dict(width=1.3, color=C_STD), showlegend=False, hoverinfo="skip"),
                          row=R, col=C, secondary_y=True)
        fig.add_trace(go.Scatter(x=X_RANGE, y=[PIXEL_SIZE, PIXEL_SIZE], mode="lines", name="Pixel size",
                                 line=dict(width=1.6, color=C_PIX, dash=PIX_DASH), showlegend=False,
                                 hoverinfo="skip"), row=R, col=C, secondary_y=True)

        x0, x1 = COLS_PX[c]
        y0, y1 = ROWS_PX[r]
        fig.update_xaxes(domain=[x0 / W, x1 / W], range=X_RANGE, tickvals=X_TICKS, ticks="inside",
                         ticklen=6, tickcolor=INK, tickwidth=1, mirror="ticks", showline=True,
                         linecolor=INK, linewidth=1, showgrid=False, zeroline=False,
                         showticklabels=(r == 3), tickfont=dict(size=14, color=INK, family=FONT),
                         automargin=False, row=R, col=C)
        fig.update_yaxes(domain=[1 - y1 / H, 1 - y0 / H], range=LEFT_RANGE,
                         tickvals=[symlog(v) for v in LEFT_TICKS], ticktext=LEFT_TICKTEXT,
                         ticks="inside", ticklen=6, tickcolor=INK, showline=True, linecolor=INK,
                         linewidth=1, showgrid=False, zeroline=False, showticklabels=(c == 0),
                         tickfont=dict(size=13, color=INK, family=FONT), automargin=False,
                         row=R, col=C, secondary_y=False)
        fig.update_yaxes(domain=[1 - y1 / H, 1 - y0 / H], type="log", range=RIGHT_RANGE,
                         tickvals=RIGHT_TICKS, ticktext=RIGHT_TICKTEXT, ticks="inside", ticklen=6,
                         tickcolor=INK, showline=True, linecolor=INK, linewidth=1, showgrid=False,
                         zeroline=False, showticklabels=(c == 2),
                         minor=dict(ticks="inside", ticklen=3, tickcolor=INK,
                                    tickvals=[m * 10.0 ** e for e in range(-3, 3) for m in range(2, 10)]),
                         tickfont=dict(size=14, color=INK, family=FONT), automargin=False,
                         row=R, col=C, secondary_y=True)

        fig.add_annotation(text=PANEL_NAMES[r][c], xref="paper", yref="paper",
                           x=(x0 + 10) / W, y=1 - (y0 + 21) / H, xanchor="left", yanchor="middle",
                           showarrow=False, font=dict(size=16, color=INK, family=FONT))

fig.update_xaxes(title=dict(text="X[pixels]", font=dict(size=16, color=INK, family=FONT), standoff=5),
                 row=4, col=1)

fig.add_annotation(text="Deviation from mode [mm]", xref="paper", yref="paper", x=18 / W, y=1 - 300 / H,
                   textangle=-90, showarrow=False, xanchor="center", yanchor="middle",
                   font=dict(size=16, color=INK, family=FONT))
fig.add_annotation(text="Standard deviation [mm]", xref="paper", yref="paper", x=1308 / W, y=1 - 285 / H,
                   textangle=-90, showarrow=False, xanchor="center", yanchor="middle",
                   font=dict(size=16, color=INK, family=FONT))


# ---------------------------------------------------------------- legend (drawn as a key box)
def px(xp):
    return xp / W


def py(yp):
    return 1 - yp / H


fig.add_shape(type="rect", xref="paper", yref="paper", x0=px(280), x1=px(1045), y0=py(662), y1=py(617),
              line=dict(color="#8c8c8c", width=1), fillcolor="white", layer="above")
ROW_Y = [631.5, 650.5]
SYM_X = [(283, 337), (513, 567), (617, 670), (748, 802), (846, 899)]
TXT_X = [341, 571, 674, 806, 903]
fig.add_shape(type="rect", xref="paper", yref="paper", x0=px(283), x1=px(337), y0=py(ROW_Y[0] + 8),
              y1=py(ROW_Y[0] - 8), fillcolor=C_LIGHT, line=dict(color="#cfcfcf", width=1), layer="above")
fig.add_shape(type="rect", xref="paper", yref="paper", x0=px(283), x1=px(337), y0=py(ROW_Y[1] + 8),
              y1=py(ROW_Y[1] - 8), fillcolor=C_DARK, line=dict(color="#8a8a8a", width=1, dash="dot"),
              layer="above")
LEGEND_STYLE = {
    "Max": dict(color=C_DOT, width=1, dash=DOT), "Q3": dict(color=C_DOT, width=1, dash=DOT),
    "Q1": dict(color=C_DOT, width=1, dash=DOT), "Min": dict(color=C_DOT, width=1, dash=DOT),
    "Average": dict(color=C_AVG, width=1), "Standard deviation": dict(color=C_STD, width=1.5),
    "Pixel size": dict(color=C_PIX, width=1.6, dash="7px,5px"),
}
for ri, row in enumerate((LEGEND_ROW1, LEGEND_ROW2)):
    for ci, label in enumerate(row):
        if not label:
            continue
        yy = ROW_Y[ri]
        if label in LEGEND_STYLE:
            sx0, sx1 = SYM_X[ci]
            fig.add_shape(type="line", xref="paper", yref="paper", x0=px(sx0), x1=px(sx1), y0=py(yy), y1=py(yy),
                          line=LEGEND_STYLE[label], layer="above")
        fig.add_annotation(text=label, xref="paper", yref="paper", x=px(TXT_X[ci]), y=py(yy),
                           xanchor="left", yanchor="middle", showarrow=False,
                           font=dict(size=16, color=INK, family=FONT))

fig.update_layout(
    width=W, height=H, margin=dict(l=0, r=0, t=0, b=0),
    paper_bgcolor="white", plot_bgcolor="white",
    font=dict(family=FONT, color=INK), showlegend=False,
)

fig.write_html("out.html")
